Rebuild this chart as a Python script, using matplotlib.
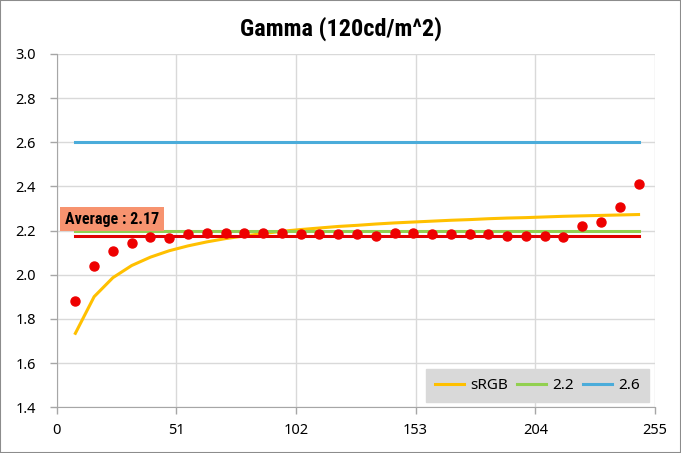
import matplotlib
matplotlib.use("Agg")
import matplotlib.pyplot as plt
from matplotlib.patches import Rectangle
from matplotlib import font_manager

names = {f.name for f in font_manager.fontManager.ttflist}
narrow = [n for n in ["Roboto Condensed", "PT Sans Narrow", "Archivo Narrow"] if n in names] + ["DejaVu Sans"]
plt.rcParams["font.family"] = ["Noto Sans", "DejaVu Sans"]

x_vals = [8, 16, 24, 32, 40, 48, 56, 64, 72, 80, 88, 96, 104, 112, 120, 128,
          136, 144, 152, 160, 168, 176, 184, 192, 200, 208, 216, 224, 232, 240, 248]
measured = [1.880, 2.042, 2.107, 2.144, 2.173, 2.168, 2.187, 2.190, 2.190, 2.188,
            2.188, 2.188, 2.185, 2.185, 2.185, 2.184, 2.178, 2.190, 2.190, 2.184,
            2.184, 2.184, 2.184, 2.178, 2.178, 2.178, 2.169, 2.220, 2.238, 2.306, 2.410]
srgb = [1.735, 1.901, 1.987, 2.042, 2.080, 2.109, 2.131, 2.149, 2.164, 2.176,
        2.187, 2.197, 2.205, 2.212, 2.219, 2.224, 2.230, 2.235, 2.239, 2.243,
        2.247, 2.250, 2.254, 2.257, 2.259, 2.262, 2.265, 2.267, 2.269, 2.271, 2.273]
ref22 = [2.2] * len(x_vals)
ref26 = [2.6] * len(x_vals)
average = 2.17
avg_line = [2.175] * len(x_vals)

x_ticks = [0, 51, 102, 153, 204, 255]
y_ticks = [1.4, 1.6, 1.8, 2.0, 2.2, 2.4, 2.6, 2.8, 3.0]

fig = plt.figure(figsize=(6.81, 4.53), dpi=100)
fig.patches.append(Rectangle((0, 0), 1, 1, transform=fig.transFigure, fill=False,
                             edgecolor="#8c8c8c", linewidth=1.5))
ax = fig.add_axes([0.0831, 0.1009, 0.8787, 0.7799])

l1, = ax.plot(x_vals, srgb, color="#FFC000", lw=2.2, label="sRGB", zorder=3)
l2, = ax.plot(x_vals, ref22, color="#92D050", lw=2.2, label="2.2", zorder=3)
l3, = ax.plot(x_vals, ref26, color="#4BACDA", lw=2.2, label="2.6", zorder=3)
ax.plot(x_vals, avg_line, color="#E00000", lw=2.2, zorder=3)
ax.plot(x_vals, measured, "o", color="#EE0000", markersize=6.5, zorder=4)

ax.set_xlim(0, 255)
ax.set_ylim(1.4, 3.0)
ax.set_xticks(x_ticks)
ax.set_yticks(y_ticks)
ax.set_yticklabels([f"{v:.1f}" for v in y_ticks])
ax.grid(True, color="#d9d9d9", lw=1)
ax.set_axisbelow(True)
for s in ["top", "right"]:
    ax.spines[s].set_visible(False)
for s in ["left", "bottom"]:
    ax.spines[s].set_color("#a6a6a6")
ax.tick_params(axis="both", colors="#a6a6a6", labelcolor="#000000", labelsize=10.5,
               length=5, width=1)
ax.tick_params(axis="x", pad=6)
ax.tick_params(axis="y", pad=10)

fig.text(0.5, 0.936, "Gamma (120cd/m^2)", fontsize=17.5, fontweight="bold",
         family=narrow, ha="center", va="center")

ax.text(3.6, 2.218, f"Average : {average:.2f}", fontsize=11.5, fontweight="bold",
        family=narrow, va="bottom", ha="left", zorder=5,
        bbox=dict(boxstyle="square,pad=0.3", facecolor="#F7936F", edgecolor="none"))

leg = ax.legend(handles=[l1, l2, l3], loc="lower right", ncol=3, frameon=True,
                fontsize=11, fancybox=False, facecolor="#d9d9d9", edgecolor="#d9d9d9",
                framealpha=1, handlelength=1.9, columnspacing=0.6, handletextpad=0.4,
                bbox_to_anchor=(0.99, 0.014), borderpad=0.6, borderaxespad=0)

fig.savefig("out.png", dpi=100)
